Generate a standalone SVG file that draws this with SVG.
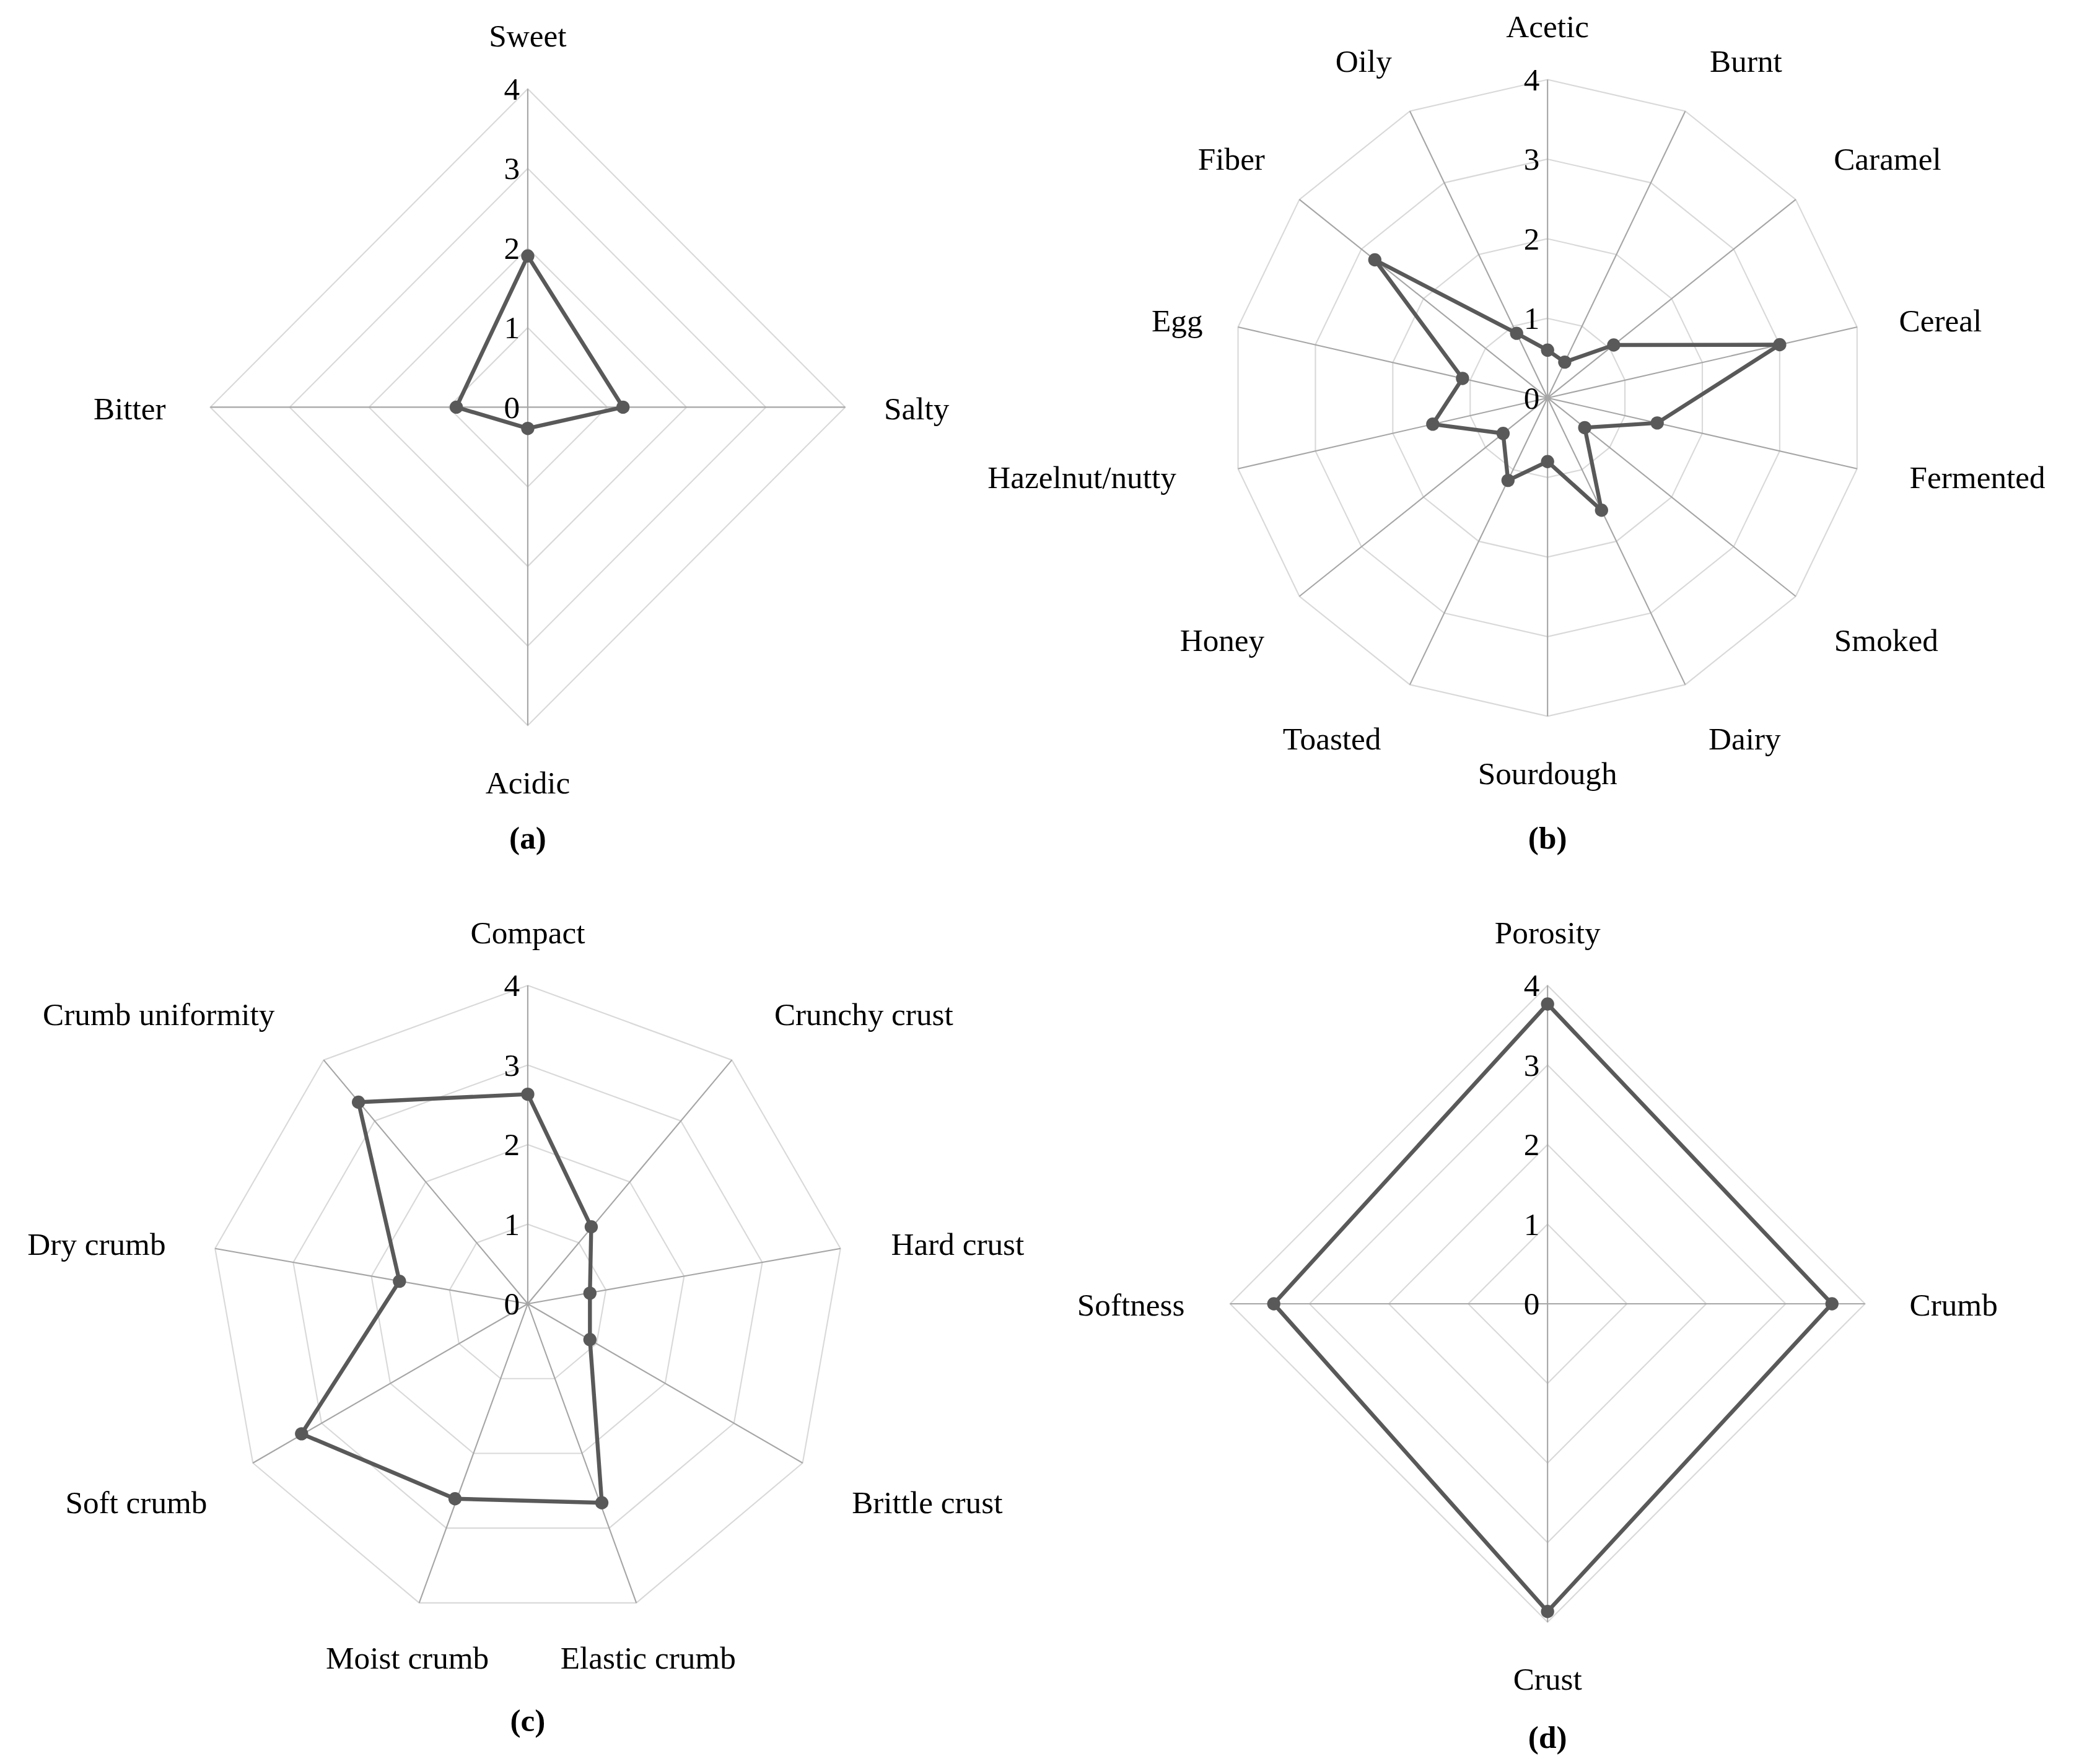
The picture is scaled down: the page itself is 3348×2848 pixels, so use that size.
<svg xmlns="http://www.w3.org/2000/svg" width="3348" height="2848" viewBox="0 0 3348 2848">
<style>
.ring{fill:none;stroke:#d9d9d9;stroke-width:1}
.axis{stroke:#a6a6a6;stroke-width:1;fill:none}
.data{fill:none;stroke:#595959;stroke-width:3;stroke-linejoin:round}
.dot{fill:#595959}
text{font-family:"Liberation Serif","DejaVu Serif",serif;font-size:24px;fill:#000}
.lab{text-anchor:middle}
.num{text-anchor:end}
.cap{text-anchor:middle;font-weight:bold}
</style>
<rect width="3348" height="2848" fill="#fff"/>
<g transform="scale(2.1352,2.1414)">
<g id="chartA">
<g class="grid">
<polygon class="ring" points="399,247 459,307 399,367 339,307"/>
<polygon class="ring" points="399,187 519,307 399,427 279,307"/>
<polygon class="ring" points="399,127 579,307 399,487 219,307"/>
<polygon class="ring" points="399,67 639,307 399,547 159,307"/>
<path class="axis" d="M399,67V547M159,307H639"/>
</g>
<g class="num"><text x="393" y="75">4</text><text x="393" y="135">3</text><text x="393" y="195">2</text><text x="393" y="255">1</text><text x="393" y="315">0</text></g>
<polygon class="data" points="399,193 471,307 399,323 345,307"/>
<g class="dot"><circle cx="399" cy="193" r="5"/><circle cx="471" cy="307" r="5"/><circle cx="399" cy="323" r="5"/><circle cx="345" cy="307" r="5"/></g>
<text class="lab" x="399" y="35">Sweet</text><text class="lab" x="693" y="316">Salty</text><text class="lab" x="399" y="598">Acidic</text><text class="lab" x="98" y="316">Bitter</text>
<text class="cap" x="399" y="640">(a)</text>
</g>
<g id="chartB">
<polygon class="ring" points="1170,240 1196,245.9 1216.9,262.6 1228.5,286.6 1228.5,313.4 1216.9,337.4 1196,354.1 1170,360 1144,354.1 1123.1,337.4 1111.5,313.4 1111.5,286.6 1123.1,262.6 1144,245.9"/>
<polygon class="ring" points="1170,180 1222.1,191.9 1263.8,225.2 1287,273.3 1287,326.7 1263.8,374.8 1222.1,408.1 1170,420 1117.9,408.1 1076.2,374.8 1053,326.7 1053,273.3 1076.2,225.2 1117.9,191.9"/>
<polygon class="ring" points="1170,120 1248.1,137.8 1310.7,187.8 1345.5,259.9 1345.5,340.1 1310.7,412.2 1248.1,462.2 1170,480 1091.9,462.2 1029.3,412.2 994.5,340.1 994.5,259.9 1029.3,187.8 1091.9,137.8"/>
<polygon class="ring" points="1170,60 1274.1,83.8 1357.6,150.4 1404,246.6 1404,353.4 1357.6,449.6 1274.1,516.2 1170,540 1065.9,516.2 982.4,449.6 936,353.4 936,246.6 982.4,150.4 1065.9,83.8"/>
<path class="axis" d="M1170,300L1170,60M1170,300L1274.1,83.8M1170,300L1357.6,150.4M1170,300L1404,246.6M1170,300L1404,353.4M1170,300L1357.6,449.6M1170,300L1274.1,516.2M1170,300L1170,540M1170,300L1065.9,516.2M1170,300L982.4,449.6M1170,300L936,353.4M1170,300L936,246.6M1170,300L982.4,150.4M1170,300L1065.9,83.8"/>
<g class="num"><text x="1164" y="68">4</text><text x="1164" y="128">3</text><text x="1164" y="188">2</text><text x="1164" y="248">1</text><text x="1164" y="308">0</text></g>
<polygon class="data" points="1170,264 1183,273 1220,260.1 1345.5,259.9 1252.9,318.9 1198.1,322.4 1210.8,384.7 1170,348 1140.1,362.2 1136.4,326.8 1083.2,319.8 1105.7,285.3 1039.4,195.9 1146.6,251.3"/>
<g class="dot"><circle cx="1170" cy="264" r="5"/><circle cx="1183" cy="273" r="5"/><circle cx="1220" cy="260.1" r="5"/><circle cx="1345.5" cy="259.9" r="5"/><circle cx="1252.9" cy="318.9" r="5"/><circle cx="1198.1" cy="322.4" r="5"/><circle cx="1210.8" cy="384.7" r="5"/><circle cx="1170" cy="348" r="5"/><circle cx="1140.1" cy="362.2" r="5"/><circle cx="1136.4" cy="326.8" r="5"/><circle cx="1083.2" cy="319.8" r="5"/><circle cx="1105.7" cy="285.3" r="5"/><circle cx="1039.4" cy="195.9" r="5"/><circle cx="1146.6" cy="251.3" r="5"/></g>
<text class="lab" x="1170" y="28">Acetic</text><text class="lab" x="1320" y="54">Burnt</text><text class="lab" x="1427" y="128">Caramel</text><text class="lab" x="1467" y="250">Cereal</text><text class="lab" x="1495" y="368">Fermented</text><text class="lab" x="1426" y="491">Smoked</text><text class="lab" x="1319" y="565">Dairy</text><text class="lab" x="1170" y="591">Sourdough</text><text class="lab" x="1007" y="565">Toasted</text><text class="lab" x="924" y="491">Honey</text><text class="lab" x="818" y="368">Hazelnut/nutty</text><text class="lab" x="890" y="250">Egg</text><text class="lab" x="931" y="128">Fiber</text><text class="lab" x="1031" y="54">Oily</text>
<text class="cap" x="1170" y="640">(b)</text>
</g>
<g id="chartC">
<polygon class="ring" points="399,923 437.6,937 458.1,972.6 451,1013 419.5,1039.4 378.5,1039.4 347,1013 339.9,972.6 360.4,937"/>
<polygon class="ring" points="399,863 476.1,891.1 517.2,962.2 502.9,1043 440,1095.8 358,1095.8 295.1,1043 280.8,962.2 321.9,891.1"/>
<polygon class="ring" points="399,803 514.7,845.1 576.3,951.8 554.9,1073 460.6,1152.1 337.4,1152.1 243.1,1073 221.7,951.8 283.3,845.1"/>
<polygon class="ring" points="399,743 553.3,799.2 635.4,941.3 606.8,1103 481.1,1208.5 316.9,1208.5 191.2,1103 162.6,941.3 244.7,799.2"/>
<path class="axis" d="M399,983L399,743M399,983L553.3,799.2M399,983L635.4,941.3M399,983L606.8,1103M399,983L481.1,1208.5M399,983L316.9,1208.5M399,983L191.2,1103M399,983L162.6,941.3M399,983L244.7,799.2"/>
<g class="num"><text x="393" y="751">4</text><text x="393" y="811">3</text><text x="393" y="871">2</text><text x="393" y="931">1</text><text x="393" y="991">0</text></g>
<polygon class="data" points="399,825 447,925 446,975 446,1010 455,1133 344,1130 228,1081 302,966 271,831"/>
<g class="dot"><circle cx="399" cy="825" r="5"/><circle cx="447" cy="925" r="5"/><circle cx="446" cy="975" r="5"/><circle cx="446" cy="1010" r="5"/><circle cx="455" cy="1133" r="5"/><circle cx="344" cy="1130" r="5"/><circle cx="228" cy="1081" r="5"/><circle cx="302" cy="966" r="5"/><circle cx="271" cy="831" r="5"/></g>
<text class="lab" x="399" y="711">Compact</text><text class="lab" x="653" y="773">Crunchy crust</text><text class="lab" x="724" y="946">Hard crust</text><text class="lab" x="701" y="1141">Brittle crust</text><text class="lab" x="490" y="1258">Elastic crumb</text><text class="lab" x="308" y="1258">Moist crumb</text><text class="lab" x="103" y="1141">Soft crumb</text><text class="lab" x="73" y="946">Dry crumb</text><text class="lab" x="120" y="773">Crumb uniformity</text>
<text class="cap" x="399" y="1305">(c)</text>
</g>
<g id="chartD">
<polygon class="ring" points="1170,923 1230,983 1170,1043 1110,983"/>
<polygon class="ring" points="1170,863 1290,983 1170,1103 1050,983"/>
<polygon class="ring" points="1170,803 1350,983 1170,1163 990,983"/>
<polygon class="ring" points="1170,743 1410,983 1170,1223 930,983"/>
<path class="axis" d="M1170,743V1223M930,983H1410"/>
<g class="num"><text x="1164" y="751">4</text><text x="1164" y="811">3</text><text x="1164" y="871">2</text><text x="1164" y="931">1</text><text x="1164" y="991">0</text></g>
<polygon class="data" points="1170,757 1385,983 1170,1215 963,983"/>
<g class="dot"><circle cx="1170" cy="757" r="5"/><circle cx="1385" cy="983" r="5"/><circle cx="1170" cy="1215" r="5"/><circle cx="963" cy="983" r="5"/></g>
<text class="lab" x="1170" y="711">Porosity</text><text class="lab" x="1477" y="992">Crumb</text><text class="lab" x="1170" y="1274">Crust</text><text class="lab" x="855" y="992">Softness</text>
<text class="cap" x="1170" y="1318">(d)</text>
</g>
</g>
</svg>
